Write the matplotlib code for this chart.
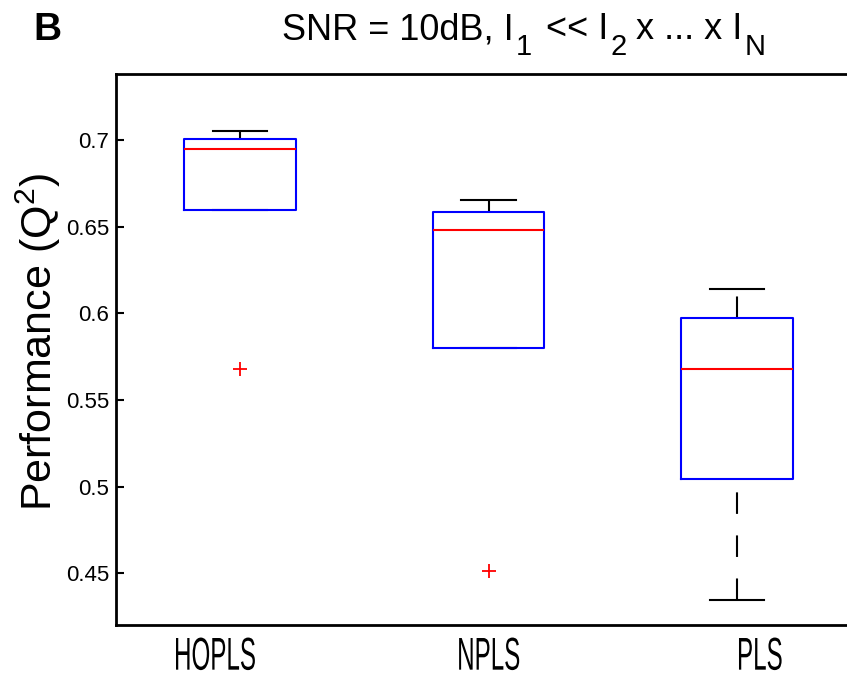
import matplotlib
matplotlib.use("Agg")
import matplotlib.pyplot as plt
import matplotlib.patheffects as patheffects
from matplotlib.ticker import FormatStrFormatter
from matplotlib.transforms import Affine2D

# ---------------------------------------------------------------------------
# Data
# ---------------------------------------------------------------------------
methods = ["HOPLS", "NPLS", "PLS"]
medians = [0.695, 0.648, 0.568]
q1 = [0.6596, 0.5798, 0.5046]
q3 = [0.7005, 0.6583, 0.5971]
whisker_low = [0.6596, 0.5798, 0.4346]
whisker_high = [0.7054, 0.6654, 0.614]
outliers = [[0.5677], [0.4515], []]

y_ticks = [0.45, 0.5, 0.55, 0.6, 0.65, 0.7]

W, H = 847, 679
plt.rcParams["font.family"] = ["Liberation Sans", "DejaVu Sans"]
plt.rcParams["mathtext.default"] = "regular"
plt.rcParams["lines.scale_dashes"] = False


class _Stretch(patheffects.AbstractPathEffect):
    """Draw text glyphs scaled about their centre / baseline (narrow, tall font look)."""

    def __init__(self, sx, sy=1.0):
        super().__init__()
        self._sx = sx
        self._sy = sy

    def draw_path(self, renderer, gc, tpath, affine, rgbFace=None):
        ext = tpath.get_extents()
        cx = 0.5 * (ext.x0 + ext.x1)
        stretch = Affine2D().translate(-cx, 0).scale(self._sx, self._sy).translate(cx, 0)
        renderer.draw_path(gc, tpath, stretch + affine, rgbFace)


fig = plt.figure(figsize=(W / 100, H / 100), dpi=100)
fig.patch.set_facecolor("white")
# right edge of the axes lies just outside the picture, as in the original
ax = fig.add_axes([116 / W, 54 / H, 745 / W, 551 / H])

stats = []
for i, name in enumerate(methods):
    stats.append(dict(label=name, med=medians[i], q1=q1[i], q3=q3[i],
                      whislo=whisker_low[i], whishi=whisker_high[i],
                      fliers=outliers[i]))

art = ax.bxp(
    stats, positions=[1, 2, 3], widths=0.45, capwidths=0.22,
    boxprops=dict(color="#0000ff", linewidth=1.5, zorder=3),
    medianprops=dict(color="#ff0000", linewidth=1.5, zorder=3.5),
    whiskerprops=dict(color="black", linewidth=1.5, linestyle=(0, (15.5, 15.5))),
    capprops=dict(color="black", linewidth=1.5),
    flierprops=dict(marker="+", markersize=10, markeredgewidth=1.3,
                    markeredgecolor="#ff0000", linestyle="none"),
    showfliers=True,
)
# dash pattern starts at the lower end of every whisker
for wl in art["whiskers"]:
    ys = wl.get_ydata()
    if ys[0] > ys[1]:
        wl.set_ydata(ys[::-1])

ax.set_xlim(0.5, 3.5)
ax.set_ylim(0.4201, 0.7381)
ax.set_yticks(y_ticks)
ax.yaxis.set_major_formatter(FormatStrFormatter("%g"))
ax.tick_params(axis="y", direction="in", length=5.8, width=1.5, pad=5,
               labelsize=16)

# category labels sit a bit off the box centres in the original
label_x = [0.898, 2.0, 3.092]
ax.set_xticks(label_x, methods, fontsize=27,
              path_effects=[_Stretch(0.645, 1.227)])
ax.tick_params(axis="x", length=0, pad=12)

for side in ("left", "bottom", "top"):
    ax.spines[side].set_linewidth(2)
ax.spines["right"].set_visible(False)

# y label
fig.text(38 / W, 1 - 342 / H, "Performance (Q$^2$)", rotation=90,
         ha="center", va="center", fontsize=31)

# panel letter
fig.text(33 / W, 1 - 40 / H, "B", fontsize=28, fontweight="bold",
         ha="left", va="baseline")

# title with large, dropped subscripts
renderer = fig.canvas.get_renderer()
pieces = [
    ("SNR = 10dB, I", False, 2),
    ("1", True, 14),
    ("<< I", False, 2),
    ("2", True, 10),
    ("x ... x I", False, 2),
    ("N", True, 0),
]
x = 282
for text, is_sub, gap in pieces:
    if is_sub:
        t = fig.text(x / W, 1 - 55 / H, text, fontsize=21, ha="left", va="baseline")
    else:
        t = fig.text(x / W, 1 - 39 / H, text, fontsize=26, ha="left", va="baseline")
    bb = t.get_window_extent(renderer)
    x = bb.x1 + gap

fig.savefig("out.png", dpi=100, facecolor="white")
